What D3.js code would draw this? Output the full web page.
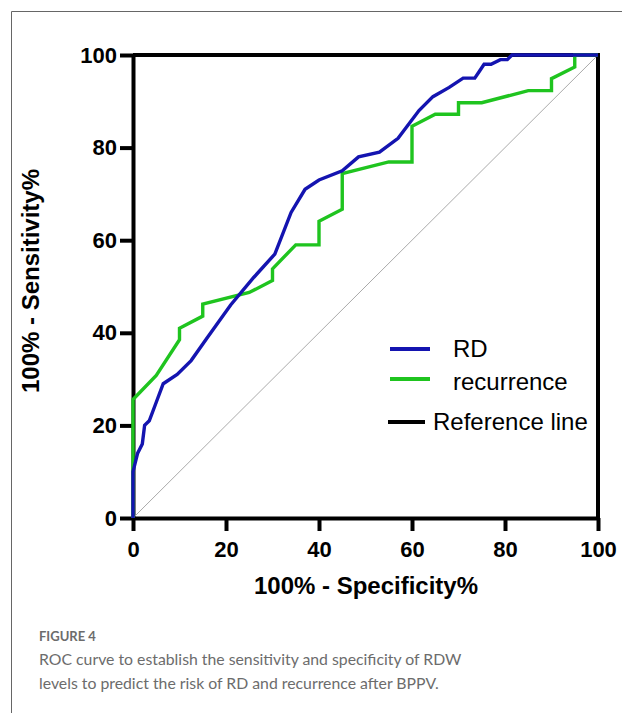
<!DOCTYPE html>
<html>
	<head>
		<title>ROC curve</title>
		<style>
			body { margin: 0; background: #fff; }
			.axis text { font-family: "Liberation Sans", Arial, sans-serif; font-weight: bold; font-size: 22px; fill: #000; }
			.axis path, .axis line { stroke: #000; stroke-width: 4; }
			.title { font-family: "Liberation Sans", Arial, sans-serif; font-weight: bold; font-size: 24px; }
			.legend text { font-family: "Liberation Sans", Arial, sans-serif; font-size: 24px; }
			.caption { font-family: Lato, "Open Sans", sans-serif; fill: #6c6c6c; }
		</style>
	</head>
	<body>
		<div class="rocChart"></div>

		<script src="https://cdnjs.cloudflare.com/ajax/libs/d3/7.8.5/d3.min.js"></script>

		<script type="text/javascript">
			// 100% - specificity (x) and sensitivity (y)
			var rdX = [0, 0, 0.5, 1, 2, 2.5, 3.5, 5, 6.5, 9.5, 12.5, 16, 21, 26, 30.5, 34, 37, 40, 45, 48.5, 53, 57, 61.5, 64.5, 68, 71, 73.5, 74.5, 75.5, 77, 79, 80.5, 81.5, 100];
			var rdY = [0, 10, 12, 14, 16, 20, 21, 25, 29, 31, 34, 39, 46, 52, 57, 66, 71, 73, 75, 78, 79, 82, 88, 91, 93, 95, 95, 96.5, 98, 98, 99, 99, 100, 100];

			var recX = [0, 0, 5, 10, 10, 15, 15, 25, 30, 30, 35, 40, 40, 45, 45, 55, 60, 60, 65, 70, 70, 75, 85, 90, 90, 95, 95, 100];
			var recY = [0, 25.6, 30.8, 38.5, 41, 43.6, 46.2, 48.7, 51.3, 53.8, 59, 59, 64.1, 66.7, 74.4, 76.9, 76.9, 84.6, 87.2, 87.2, 89.7, 89.7, 92.3, 92.3, 94.9, 97.4, 100, 100];

			var refX = [0, 100];
			var refY = [0, 100];

			var tickValues = [0, 20, 40, 60, 80, 100];
			var legendLabels = ["RD", "recurrence", "Reference line"];
			var legendColors = ["#1414b0", "#1fc41f", "#000"];
			var captionHead = "FIGURE 4";
			var captionLines = [
				"ROC curve to establish the sensitivity and specificity of RDW",
				"levels to predict the risk of RD and recurrence after BPPV."
			];

			var svg = d3.select(".rocChart").append("svg")
				.attr("width", 622)
				.attr("height", 713);

			// outer figure frame
			svg.append("path")
				.attr("d", "M11.5,713V11.5H622")
				.attr("fill", "none")
				.attr("stroke", "#666")
				.attr("stroke-width", 1);

			var x = d3.scaleLinear().domain([0, 100]).range([133, 598]),
				y = d3.scaleLinear().domain([0, 100]).range([518, 55]);

			var line = d3.line()
				.x(function(d){ return x(d[0]); })
				.y(function(d){ return y(d[1]); });

			function zip(xs, ys){
				return xs.map(function(v, i){ return [v, ys[i]]; });
			}

			// top and right frame of the plot
			svg.append("path")
				.attr("d", "M" + x(0) + "," + y(100) + "H" + x(100) + "V" + y(0))
				.attr("fill", "none")
				.attr("stroke", "#000")
				.attr("stroke-width", 4);

			svg.append("g")
				.attr("class", "axis")
				.attr("transform", "translate(0," + y(0) + ")")
				.call(d3.axisBottom(x).tickValues(tickValues).tickSize(13).tickSizeOuter(0).tickPadding(10));

			svg.append("g")
				.attr("class", "axis")
				.attr("transform", "translate(" + x(0) + ",0)")
				.call(d3.axisLeft(y).tickValues(tickValues).tickSize(13).tickSizeOuter(0).tickPadding(3));

			// chance diagonal
			svg.append("path")
				.attr("d", line(zip(refX, refY)))
				.attr("fill", "none")
				.attr("stroke", "#aaa")
				.attr("stroke-width", 1);

			svg.append("path")
				.attr("d", line(zip(recX, recY)))
				.attr("fill", "none")
				.attr("stroke", legendColors[1])
				.attr("stroke-width", 3.4);

			svg.append("path")
				.attr("d", line(zip(rdX, rdY)))
				.attr("fill", "none")
				.attr("stroke", legendColors[0])
				.attr("stroke-width", 3.4);

			svg.append("text")
				.attr("class", "title")
				.attr("x", 366)
				.attr("y", 594)
				.attr("text-anchor", "middle")
				.text("100% - Specificity%");

			svg.append("text")
				.attr("class", "title")
				.attr("transform", "translate(39,281) rotate(-90)")
				.attr("text-anchor", "middle")
				.text("100% - Sensitivity%");

			// legend
			var legendLineY = [349, 379, 422],
				legendTextY = [357, 390, 430],
				legendLineX = [[390, 430], [390, 430], [388, 425]],
				legendTextX = [453, 453, 433];

			var legend = svg.append("g").attr("class", "legend");
			legendLabels.forEach(function(name, i){
				legend.append("line")
					.attr("x1", legendLineX[i][0])
					.attr("x2", legendLineX[i][1])
					.attr("y1", legendLineY[i])
					.attr("y2", legendLineY[i])
					.attr("stroke", legendColors[i])
					.attr("stroke-width", 4);
				legend.append("text")
					.attr("x", legendTextX[i])
					.attr("y", legendTextY[i])
					.text(name);
			});

			// caption
			svg.append("text")
				.attr("class", "caption")
				.attr("x", 39)
				.attr("y", 641)
				.style("font-size", "13px")
				.style("font-weight", 700)
				.text(captionHead);

			svg.selectAll(".capLine")
				.data(captionLines)
				.enter().append("text")
				.attr("class", "caption capLine")
				.attr("x", 39)
				.attr("y", function(d, i){ return 665 + i * 24; })
				.style("font-size", "15.8px")
				.style("font-weight", 400)
				.text(function(d){ return d; });
		</script>
	</body>
</html>
